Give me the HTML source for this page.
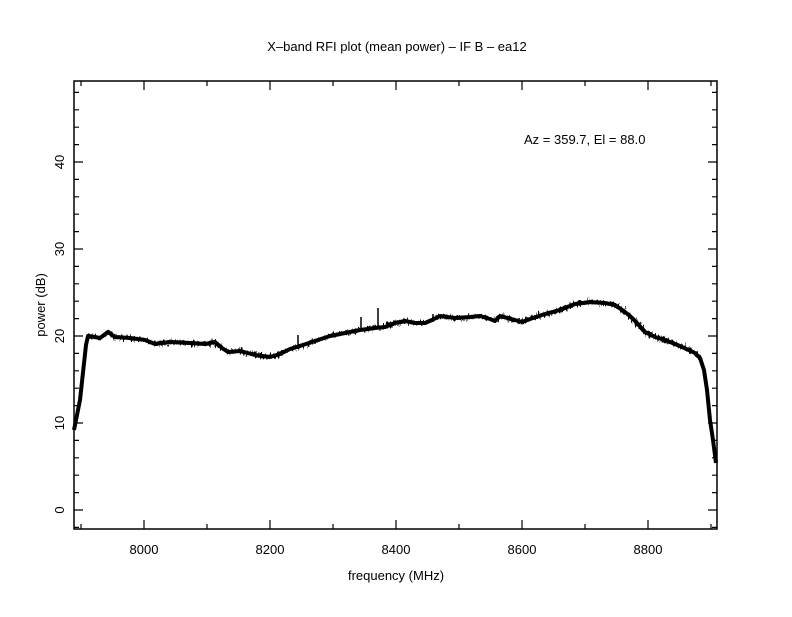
<!DOCTYPE html>
<html><head><style>body{margin:0;background:#fff}</style></head><body>
<svg width="792" height="612" xmlns="http://www.w3.org/2000/svg" font-family="Liberation Sans, sans-serif" font-size="13">
<defs>
<filter id="jit" x="-5%" y="-20%" width="110%" height="140%">
<feTurbulence type="fractalNoise" baseFrequency="0.6 0.2" numOctaves="2" seed="3" result="n"/>
<feDisplacementMap in="SourceGraphic" in2="n" scale="9" xChannelSelector="R" yChannelSelector="G"/>
</filter>
</defs>
<rect width="792" height="612" fill="#fff"/>
<rect x="74" y="81" width="643" height="448" fill="none" stroke="#000" stroke-width="1.5"/>
<g stroke="#000" stroke-width="1.2">
<path d="M144 529v-9M270 529v-9M396 529v-9M522 529v-9M648 529v-9M144 81v9M270 81v9M396 81v9M522 81v9M648 81v9"/>
<path d="M81 529v-5M207 529v-5M333 529v-5M459 529v-5M585 529v-5M711 529v-5M81 81v5M207 81v5M333 81v5M459 81v5M585 81v5M711 81v5"/>
<path d="M74 510h9M74 423h9M74 336h9M74 249h9M74 162h9M717 510h-9M717 423h-9M717 336h-9M717 249h-9M717 162h-9"/>
<path d="M74 527.4h5M74 492.6h5M74 475.2h5M74 457.8h5M74 440.4h5M74 405.6h5M74 388.2h5M74 370.8h5M74 353.4h5M74 318.6h5M74 301.2h5M74 283.8h5M74 266.4h5M74 231.6h5M74 214.2h5M74 196.8h5M74 179.4h5M74 144.6h5M74 127.2h5M74 109.8h5M74 92.4h5
M717 527.4h-5M717 492.6h-5M717 475.2h-5M717 457.8h-5M717 440.4h-5M717 405.6h-5M717 388.2h-5M717 370.8h-5M717 353.4h-5M717 318.6h-5M717 301.2h-5M717 283.8h-5M717 266.4h-5M717 231.6h-5M717 214.2h-5M717 196.8h-5M717 179.4h-5M717 144.6h-5M717 127.2h-5M717 109.8h-5M717 92.4h-5"/>
</g>
<g text-anchor="middle">
<text x="144" y="554">8000</text><text x="270" y="554">8200</text><text x="396" y="554">8400</text><text x="522" y="554">8600</text><text x="648" y="554">8800</text>
<text x="396" y="580">frequency (MHz)</text>
<text x="397" y="51">X–band RFI plot (mean power) – IF B – ea12</text>
</g>
<g text-anchor="middle">
<text transform="translate(64,510) rotate(-90)">0</text>
<text transform="translate(64,423) rotate(-90)">10</text>
<text transform="translate(64,336) rotate(-90)">20</text>
<text transform="translate(64,249) rotate(-90)">30</text>
<text transform="translate(64,162) rotate(-90)">40</text>
<text transform="translate(45,305) rotate(-90)">power (dB)</text>
</g>
<text x="524" y="144">Az = 359.7, El = 88.0</text>
<polyline fill="none" stroke="#000" stroke-width="4" stroke-linejoin="round" points="74,430 80,400 86,345 88,336 95,337 100,338 108,332 115,337 130,338 145,340 155,344 170,342 190,343 205,344 215,342 222,348 228,352 240,351 255,355 270,357 280,354 290,349 300,346 315,341 330,336 345,333 360,330 375,328 385,327 395,323 405,321 415,323 425,323 432,320 440,316 455,318 470,317 480,316 490,319 495,321 500,316 515,320 522,322 530,319 545,314 560,310 575,304 590,302 605,303 615,305 625,312 630,316 637,323 645,332 655,337 665,340 680,346 695,353 700,358 704,370 707,390 710,420 713,440 716,463"/>
<polyline filter="url(#jit)" fill="none" stroke="#000" stroke-width="3.5" stroke-linejoin="round" points="88,336 95,337 100,338 108,332 115,337 130,338 145,340 155,344 170,342 190,343 205,344 215,342 222,348 228,352 240,351 255,355 270,357 280,354 290,349 300,346 315,341 330,336 345,333 360,330 375,328 385,327 395,323 405,321 415,323 425,323 432,320 440,316 455,318 470,317 480,316 490,319 495,321 500,316 515,320 522,322 530,319 545,314 560,310 575,304 590,302 605,303 615,305 625,312 630,316 637,323 645,332 655,337 665,340 680,346 695,353 700,358"/>
<g stroke="#000" stroke-width="1.5">
<path d="M298 348V335M361 330V317M378 328V308M433 322V314"/>
</g>
</svg>
</body></html>
